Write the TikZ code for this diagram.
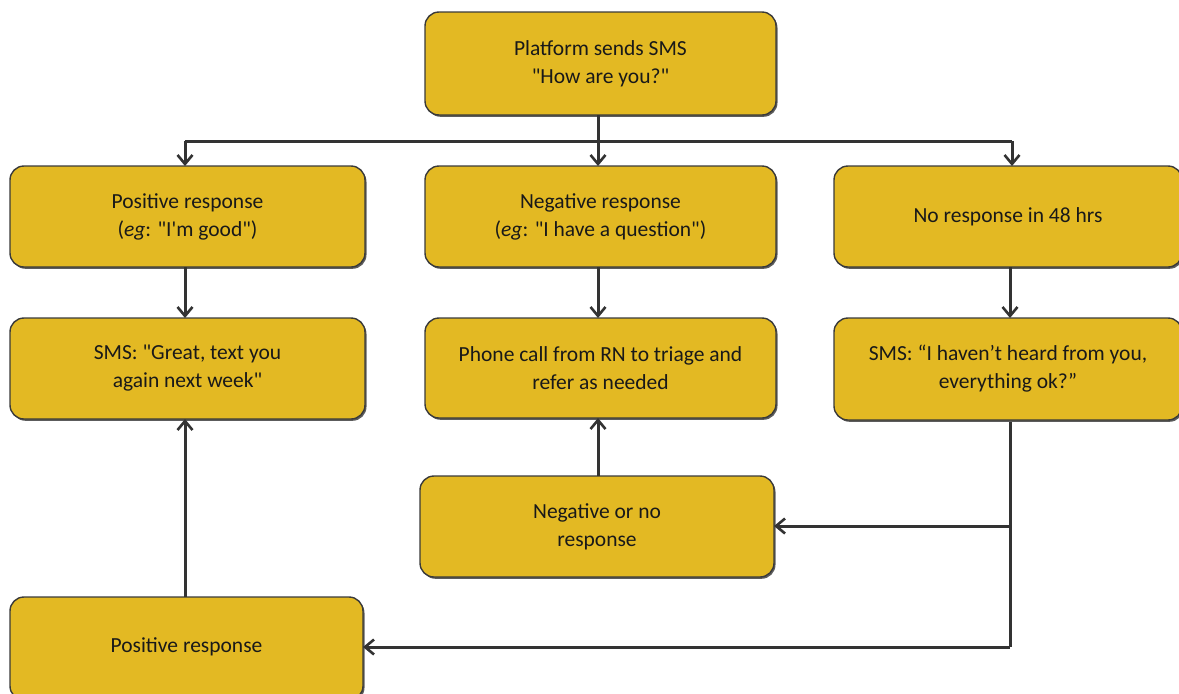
\documentclass[tikz,border=0pt]{standalone}
\usepackage{fontspec}
\newfontfamily\boxfont{Carlito}
\usetikzlibrary{arrows.meta,shadows}
\definecolor{boxgold}{HTML}{E3B923}
\definecolor{boxline}{HTML}{3A3A3A}
\definecolor{arrowgray}{HTML}{333333}
\begin{document}
\begin{tikzpicture}[x=1pt,y=-1pt,
  flowbox/.style={draw=boxline, line width=1.4pt, fill=boxgold, rounded corners=14pt,
    drop shadow={shadow xshift=1.5pt, shadow yshift=-1.8pt, fill=black!75, opacity=0.85}},
  boxtext/.style={align=center, font=\boxfont\fontsize{21.5}{28}\selectfont, text=black!90},
  conn/.style={draw=arrowgray, line width=3pt},
  arr/.style={conn, -{Straight Barb[length=9pt, width=15pt, line width=2.6pt]}}]
\useasboundingbox (0,0) rectangle (1179,694);
% boxes
\draw[flowbox] (425,12) rectangle (776,115);
\node[boxtext] (top) at (600.5,63.5) {Platform sends SMS\\ "How are you?"};
\coordinate (topB) at (598,115);

\draw[flowbox] (10,166) rectangle (365,267);
\node[boxtext] (pos) at (187.5,216.5) {Positive response\\ (\textit{eg}: "I'm good")};
\draw[flowbox] (425,166) rectangle (776,267);
\node[boxtext] (neg) at (600.5,216.5) {Negative response\\ (\textit{eg}: "I have a question")};
\draw[flowbox] (834,166) rectangle (1182,267);
\node[boxtext] (nor) at (1008,216.5) {No response in 48 hrs};

\draw[flowbox] (10,318) rectangle (365,419);
\node[boxtext] (great) at (187.5,368.5) {SMS: "Great, text you\\ again next week"};
\draw[flowbox] (425,318) rectangle (776,418);
\node[boxtext] (phone) at (600.5,368) {Phone call from RN to triage and\\ refer as needed};
\draw[flowbox] (834,318) rectangle (1182,420);
\node[boxtext] (heard) at (1008,369) {SMS: “I haven’t heard from you,\\ everything ok?”};

\draw[flowbox] (420,476) rectangle (774,577);
\node[boxtext] (negno) at (597,526.5) {Negative or no\\ response};
\draw[flowbox] (10,597) rectangle (363,700);
\node[boxtext] (posr) at (186.5,647) {Positive response};

% connector coordinates
\coordinate (splitL) at (185,141);
\coordinate (splitR) at (1012,141);
\coordinate (posT) at (185,166);
\coordinate (negT) at (598,166);
\coordinate (norT) at (1012,166);
\coordinate (posB) at (185,267);
\coordinate (greatT) at (185,318);
\coordinate (negB) at (598,267);
\coordinate (phoneT) at (598,318);
\coordinate (norB) at (1010,267);
\coordinate (heardT) at (1010,318);
\coordinate (heardB) at (1010,422);
\coordinate (j1) at (1010,526);
\coordinate (j2) at (1010,647);
\coordinate (negnoR) at (774,526);
\coordinate (posrR) at (363,647);
\coordinate (negnoT) at (598,476);
\coordinate (phoneB) at (598,418);
\coordinate (posrT) at (185,597);
\coordinate (greatB) at (185,419);

\draw[arr] (topB) -- (negT);
\draw[conn] (splitL) -- (splitR);
\draw[arr] (splitL) -- (posT);
\draw[arr] (splitR) -- (norT);
\draw[arr] (posB) -- (greatT);
\draw[arr] (negB) -- (phoneT);
\draw[arr] (norB) -- (heardT);
\draw[conn] (heardB) -- (j2);
\draw[arr] (j1) -- (negnoR);
\draw[arr] (j2) -- (posrR);
\draw[arr] (negnoT) -- (phoneB);
\draw[arr] (posrT) -- (greatB);
\end{tikzpicture}
\end{document}
